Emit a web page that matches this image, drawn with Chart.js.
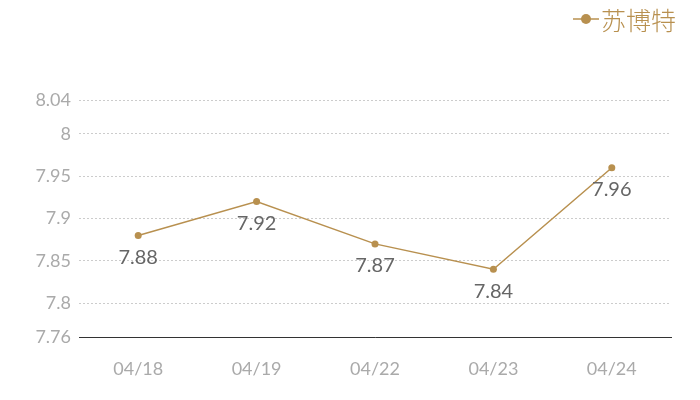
<!DOCTYPE html>
<html><head><meta charset="utf-8">
<script src="https://cdn.jsdelivr.net/npm/chart.js@4/dist/chart.umd.min.js"></script>
<style>html,body{margin:0;padding:0;background:#fff}#wrap{width:700px;height:400px}</style>
</head><body><div id="wrap"><canvas id="c" width="700" height="400"></canvas></div>
<script>
const categories = ['04/18','04/19','04/22','04/23','04/24'];
const seriesName = '苏博特';
const values = [7.88, 7.92, 7.87, 7.84, 7.96];
const yTicks = [7.76, 7.8, 7.85, 7.9, 7.95, 8, 8.04];

const gold = '#b8904f';
const font = 'Lato, "Noto Sans CJK SC", sans-serif';

const labelPlugin = {
  id: 'labels',
  afterDatasetsDraw(chart) {
    const ctx = chart.ctx;
    const meta = chart.getDatasetMeta(0);
    ctx.save();
    ctx.font = '20px ' + font;
    ctx.fillStyle = '#666';
    ctx.textAlign = 'center';
    ctx.textBaseline = 'middle';
    meta.data.forEach((pt, i) => {
      ctx.fillText(String(values[i]), pt.x, pt.y + 22);
    });
    // legend
    const lx = 573, ly = 19;
    ctx.strokeStyle = gold; ctx.lineWidth = 1.5;
    ctx.beginPath(); ctx.moveTo(lx, ly); ctx.lineTo(lx + 26, ly); ctx.stroke();
    ctx.fillStyle = gold;
    ctx.beginPath(); ctx.arc(lx + 13, ly, 5, 0, Math.PI * 2); ctx.fill();
    ctx.font = '300 25px "Noto Sans CJK SC", sans-serif';
    ctx.textAlign = 'left';
    ctx.fillText(seriesName, lx + 28, ly + 1);
    ctx.restore();
  }
};

new Chart(document.getElementById('c'), {
  type: 'line',
  data: {
    labels: categories,
    datasets: [{
      label: seriesName,
      data: values,
      borderColor: gold,
      backgroundColor: gold,
      borderWidth: 1.5,
      pointRadius: 3.5,
      pointBackgroundColor: gold,
      pointBorderWidth: 0,
      tension: 0
    }]
  },
  options: {
    responsive: false,
    animation: false,
    layout: { padding: { top: 100, right: 29, left: 0, bottom: 0 } },
    plugins: { legend: { display: false }, tooltip: { enabled: false } },
    scales: {
      x: {
        offset: true,
        grid: { display: false, offset: true },
        border: { display: true, color: '#333', width: 1 },
        ticks: { color: '#aaa', font: { family: font, size: 18 }, padding: 13, maxRotation: 0 },
        afterFit(s) { s.height = 63; }
      },
      y: {
        min: 7.76, max: 8.04,
        afterBuildTicks(s) { s.ticks = yTicks.map(v => ({ value: v })); },
        grid: { color: '#ccc', borderDash: [2, 2], drawTicks: false, lineWidth: 1 },
        border: { display: false, dash: [2, 2] },
        ticks: { color: '#aaa', font: { family: font, size: 18 }, padding: 8,
                 callback: v => String(v) },
        afterFit(s) { s.width = 79; }
      }
    }
  },
  plugins: [labelPlugin]
});
</script></body></html>
